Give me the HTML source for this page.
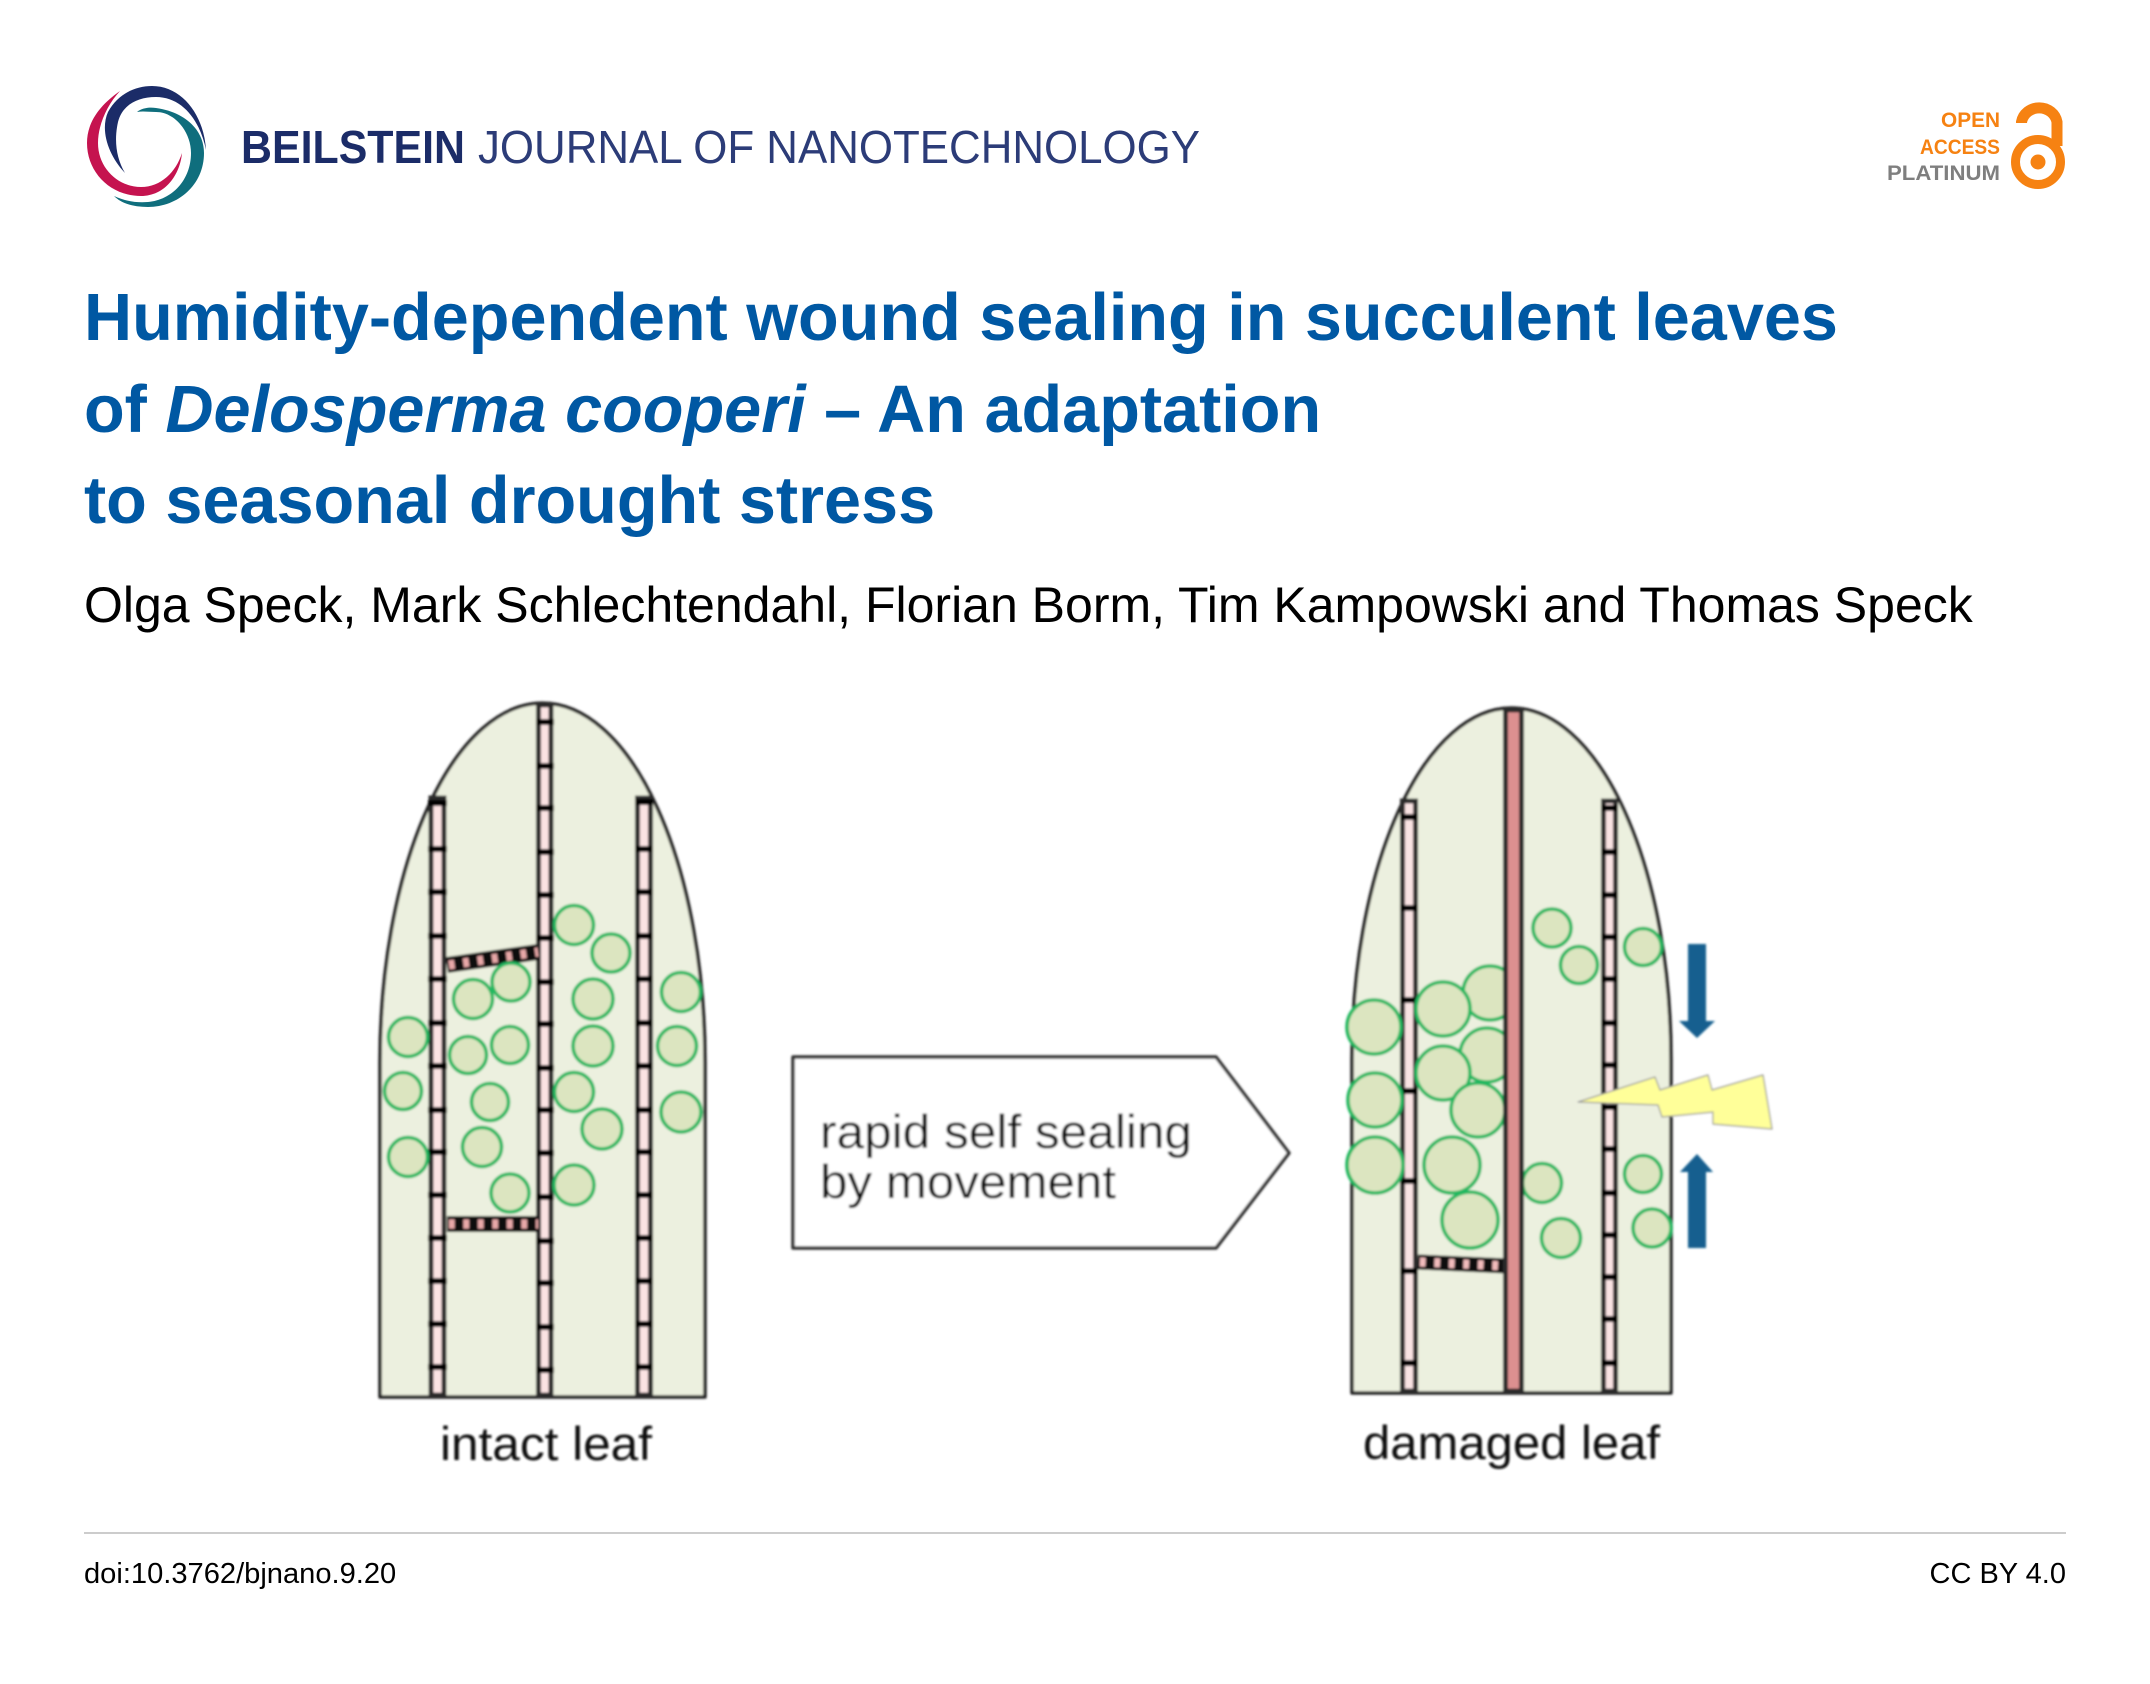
<!DOCTYPE html>
<html><head><meta charset="utf-8"><style>
html,body{margin:0;padding:0;background:#fff}
svg{display:block}
text{font-family:"Liberation Sans",sans-serif}
</style></head><body>
<svg xmlns="http://www.w3.org/2000/svg" width="2150" height="1684" viewBox="0 0 2150 1684">
<defs><filter id="b" x="-5%" y="-5%" width="110%" height="110%"><feGaussianBlur stdDeviation="1"/></filter></defs>
<rect width="2150" height="1684" fill="#fff"/>

<!-- logo -->
<path d="M125 173C108 155 100 130 108 112C118 94 135 86 152 86C182 86 204 115 206 150C200 120 182 97 156 97C136 97 122 106 118 122C114 140 116 158 125 173Z" fill="#1b2c68"/>
<path d="M137 112C142 108 149 107 156 108C185 112 204 130 204 153C204 185 178 207 148 207C134 207 122 204 114 196C125 201 136 203 148 202C172 200 191 180 191 153C191 132 175 112 156 112C149 112 143 111 137 112Z" fill="#0f6e7d"/>
<path d="M120 91C100 105 87 122 87 143C87 172 110 196 141 196C165 196 180 175 182 153C176 172 161 187 141 187C118 187 98 168 98 143C98 125 107 105 120 91Z" fill="#c5134f"/>
<text x="241" y="163" font-size="46" font-weight="700" fill="#1b2c68" textLength="224" lengthAdjust="spacingAndGlyphs">BEILSTEIN</text>
<text x="478" y="163" font-size="46" fill="#2c3c78" textLength="722" lengthAdjust="spacingAndGlyphs">JOURNAL OF NANOTECHNOLOGY</text>

<!-- badge -->
<g font-weight="700" font-size="21">
<text x="1941" y="127" fill="#f68212" textLength="59" lengthAdjust="spacingAndGlyphs">OPEN</text>
<text x="1920" y="154" fill="#f68212" textLength="80" lengthAdjust="spacingAndGlyphs">ACCESS</text>
<text x="1887" y="180" fill="#7f7f7f" textLength="113" lengthAdjust="spacingAndGlyphs">PLATINUM</text>
</g>
<path d="M2021.5 123V122A18 17 0 0 1 2057 122V146" fill="none" stroke="#f68212" stroke-width="11"/>
<circle cx="2038" cy="162" r="22.5" fill="none" stroke="#f68212" stroke-width="9"/>
<circle cx="2038" cy="162" r="7.5" fill="#f68212"/>

<!-- title -->
<g font-size="66.6" font-weight="700" fill="#0058a3">
<text x="84" y="340">Humidity-dependent wound sealing in succulent leaves</text>
<text x="84" y="432">of <tspan font-style="italic">Delosperma cooperi</tspan> – An adaptation</text>
<text x="84" y="523">to seasonal drought stress</text>
</g>
<text x="84" y="622" font-size="50" fill="#000">Olga Speck, Mark Schlechtendahl, Florian Borm, Tim Kampowski and Thomas Speck</text>

<!-- figure -->
<g filter="url(#b)">
<!-- left leaf -->
<path d="M380 1397V1062A162.5 359 0 0 1 705 1062V1397Z" fill="#ecf0df" stroke="#222" stroke-width="3.5" stroke-linejoin="round"/>
<g fill="#fbe3e3" stroke="#2a2a2a" stroke-width="5">
<rect x="431" y="798" width="13" height="597"/>
<rect x="538.5" y="705" width="12.5" height="690"/>
<rect x="637.5" y="798" width="13" height="597"/>
</g>
<path d="M428 803h19M428 849h19M428 892h19M428 936h19M428 979h19M428 1023h19M428 1066h19M428 1110h19M428 1152h19M428 1195h19M428 1238h19M428 1281h19M428 1324h19M428 1367h19" stroke="#000" stroke-width="6"/>
<path d="M536 722h18M536 766h18M536 808h18M536 852h18M536 895h18M536 938h18M536 982h18M536 1024h18M536 1068h18M536 1110h18M536 1153h18M536 1197h18M536 1241h18M536 1283h18M536 1327h18M536 1370h18" stroke="#000" stroke-width="6"/>
<path d="M635 802h18M635 849h18M635 892h18M635 936h18M635 979h18M635 1023h18M635 1066h18M635 1110h18M635 1152h18M635 1195h18M635 1238h18M635 1281h18M635 1324h18M635 1367h18" stroke="#000" stroke-width="6"/>
<path d="M447 965L538 952" stroke="#111" stroke-width="16"/>
<path d="M449 965L538 952" stroke="#e8a8a8" stroke-width="9" stroke-dasharray="5.5 9"/>
<path d="M447 1224H538" stroke="#111" stroke-width="16"/>
<path d="M449 1224H538" stroke="#e8a8a8" stroke-width="9" stroke-dasharray="5.5 9"/>
<g fill="#dce5c0" stroke="#22b860" stroke-width="3.6">
<circle cx="574" cy="925" r="19.5"/><circle cx="611" cy="953" r="19"/><circle cx="681" cy="992" r="19.5"/>
<circle cx="593" cy="999" r="20"/><circle cx="593" cy="1046" r="20"/><circle cx="677" cy="1046" r="19.5"/>
<circle cx="511" cy="982" r="19"/><circle cx="473" cy="999" r="19.5"/><circle cx="408" cy="1037" r="19.5"/>
<circle cx="468" cy="1055" r="18.5"/><circle cx="510" cy="1045" r="18.5"/><circle cx="403" cy="1091" r="18.5"/>
<circle cx="490" cy="1102" r="18.5"/><circle cx="574" cy="1092" r="19.5"/><circle cx="602" cy="1129" r="20"/>
<circle cx="681" cy="1112" r="20"/><circle cx="408" cy="1157" r="19.5"/><circle cx="482" cy="1147" r="19.5"/>
<circle cx="510" cy="1193" r="19"/><circle cx="574" cy="1185" r="20"/>
</g>
<text x="440" y="1460" font-size="47" fill="#111" textLength="212" lengthAdjust="spacingAndGlyphs">intact leaf</text>

<!-- arrow box -->
<path d="M793 1057H1216L1289 1153L1216 1248H793Z" fill="#fff" stroke="#333" stroke-width="3.5" stroke-linejoin="round"/>
<text x="820" y="1148" font-size="47" fill="#111" textLength="372" lengthAdjust="spacingAndGlyphs">rapid self sealing</text>
<text x="820" y="1198" font-size="47" fill="#111" textLength="296" lengthAdjust="spacingAndGlyphs">by movement</text>

<!-- right leaf -->
<path d="M1352 1393V1059A159.5 351 0 0 1 1671 1059V1393Z" fill="#ecf0df" stroke="#222" stroke-width="3.5" stroke-linejoin="round"/>
<g fill="#f9e3e3" stroke="#2a2a2a" stroke-width="5">
<rect x="1402.5" y="801" width="13" height="590"/>
<rect x="1603.5" y="801" width="12" height="590"/>
</g>
<path d="M1400 817h18M1400 908h18M1400 1000h18M1400 1091h18M1400 1181h18M1400 1271h18M1400 1363h18" stroke="#000" stroke-width="6"/>
<path d="M1601 808h17M1601 852h17M1601 895h17M1601 937h17M1601 979h17M1601 1023h17M1601 1065h17M1601 1107h17M1601 1149h17M1601 1193h17M1601 1235h17M1601 1277h17M1601 1319h17M1601 1363h17" stroke="#000" stroke-width="6"/>
<path d="M1418 1262L1507 1266" stroke="#111" stroke-width="15"/>
<path d="M1420 1262L1507 1266" stroke="#f2bcbc" stroke-width="9" stroke-dasharray="5.5 9"/>
<g fill="#dce5c0" stroke="#22b860" stroke-width="3.6">
<circle cx="1552" cy="928" r="19"/><circle cx="1579" cy="965" r="18.5"/><circle cx="1643" cy="947" r="18.5"/>
<circle cx="1374" cy="1027" r="27"/><circle cx="1490" cy="993" r="27"/><circle cx="1443" cy="1009" r="27"/>
<circle cx="1487" cy="1055" r="27"/><circle cx="1443" cy="1073" r="27"/><circle cx="1375" cy="1100" r="27"/>
<circle cx="1478" cy="1110" r="27"/><circle cx="1375" cy="1165" r="28"/><circle cx="1452" cy="1165" r="28"/>
<circle cx="1470" cy="1220" r="28"/><circle cx="1542" cy="1183" r="19.5"/><circle cx="1561" cy="1238" r="19.5"/>
<circle cx="1643" cy="1174" r="18.5"/><circle cx="1652" cy="1228" r="19"/>
</g>
<rect x="1505.5" y="710" width="16" height="681" fill="#dd9090" stroke="#2a2a2a" stroke-width="5"/>
<path d="M1688 944H1706V1021H1715L1697 1038L1679 1021H1688Z" fill="#145f8f"/>
<path d="M1697 1154L1713 1172H1706V1248H1688V1172H1680Z" fill="#145f8f"/>
<path d="M1578 1102L1655 1077L1660 1090L1708 1075L1712 1090L1763 1075L1772 1129L1713 1124L1713 1112L1662 1117L1658 1105Z" fill="#ffff99" stroke="#999" stroke-width="1.2" stroke-linejoin="round"/>
<text x="1363" y="1459" font-size="47" fill="#111" textLength="297" lengthAdjust="spacingAndGlyphs">damaged leaf</text>
</g>

<!-- footer -->
<rect x="84" y="1532" width="1982" height="2" fill="#ccc"/>
<text x="84" y="1583" font-size="29.1" fill="#000">doi:10.3762/bjnano.9.20</text>
<text x="2066" y="1583" font-size="29" fill="#000" text-anchor="end">CC BY 4.0</text>
</svg>
</body></html>
